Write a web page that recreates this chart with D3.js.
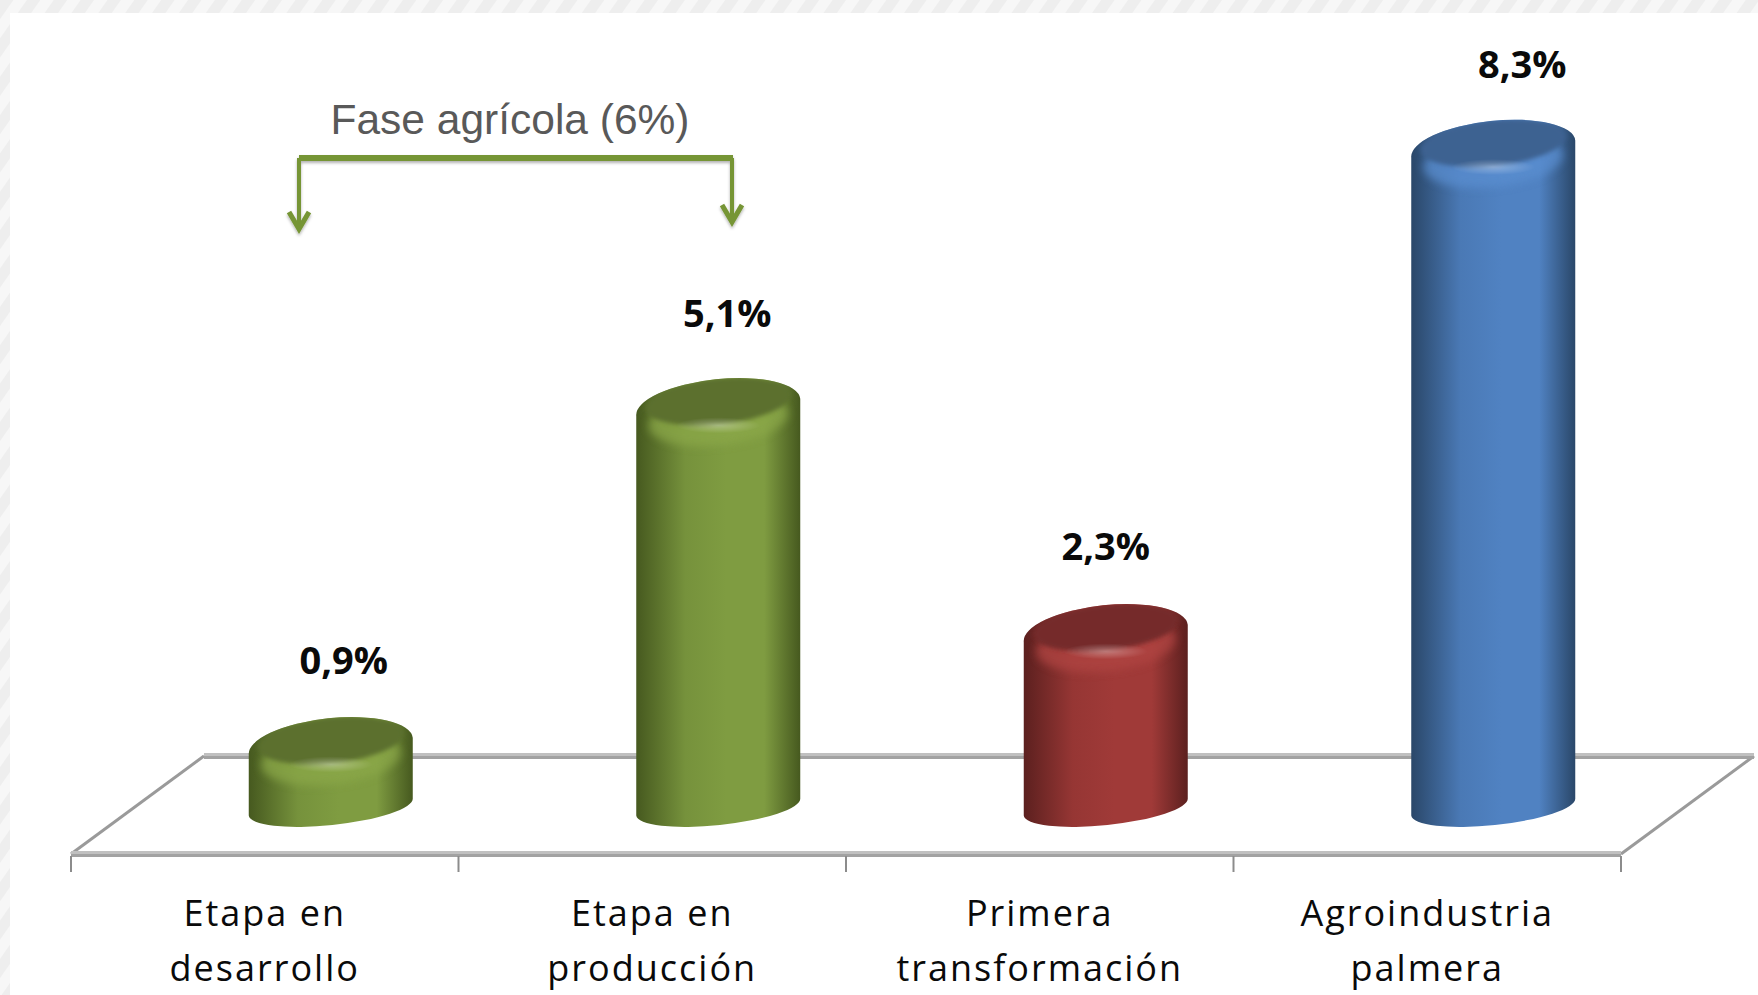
<!DOCTYPE html>
<html>
<head>
<meta charset="utf-8">
<script src="https://cdn.jsdelivr.net/npm/d3@7"></script>
<style>
  html, body { margin: 0; padding: 0; background: #fff; overflow: hidden; }
  svg { display: block; }
</style>
</head>
<body>
<div id="chart"></div>
<script>
// values
var categories = ["Etapa en\ndesarrollo", "Etapa en\nproducción", "Primera\ntransformación", "Agroindustria\npalmera"];
var values = [0.9, 5.1, 2.3, 8.3];
var phaseLabel = "Fase agrícola (6%)";

var bodyMid = ["#7f9c41", "#7f9c41", "#a03a38", "#5082c2"];
var bodyEdge = ["#46591f", "#46591f", "#5c201f", "#2a4769"];
var topFill = ["#5b6f2e", "#5b6f2e", "#742a29", "#3d6291"];
var bevelFill = ["#8ba84a", "#8ba84a", "#b04542", "#5a8ed0"];

var labelDx = [13, 9, 0, 29];
var labelDy = [43, 51, 44, 42];

var width = 1758, height = 995;
var axisLeft = 71, axisRight = 1621, axisY = 854;
var depthX = 133, depthY = 98;
var rx = 82, ry = 28, ryBase = 18, tilt = -6;
var dy = rx * Math.sin(tilt * Math.PI / 180);
var baseY = 807;

var svg = d3.select("#chart").append("svg")
  .attr("width", width)
  .attr("height", height);

var defs = svg.append("defs");

// hatched frame round the picture
var hatch = defs.append("pattern")
  .attr("id", "hatch")
  .attr("width", 22).attr("height", 22)
  .attr("patternUnits", "userSpaceOnUse")
  .attr("patternTransform", "rotate(35)");
hatch.append("rect").attr("width", 22).attr("height", 22).attr("fill", "#f7f7f7");
hatch.append("rect").attr("width", 11).attr("height", 22).attr("fill", "#eeeeee");

svg.append("rect").attr("width", width).attr("height", 13).attr("fill", "url(#hatch)");
svg.append("rect").attr("width", 10).attr("height", height).attr("fill", "url(#hatch)");

defs.append("filter").attr("id", "soft")
  .attr("x", "-20%").attr("y", "-60%").attr("width", "140%").attr("height", "220%")
  .append("feGaussianBlur").attr("stdDeviation", 4);

defs.append("filter").attr("id", "softTop")
  .attr("x", "-20%").attr("y", "-60%").attr("width", "140%").attr("height", "220%")
  .append("feGaussianBlur").attr("stdDeviation", 2);

var shadow = defs.append("filter").attr("id", "arrowShadow")
  .attr("x", "-10%").attr("y", "-10%").attr("width", "120%").attr("height", "130%");
shadow.append("feDropShadow")
  .attr("dx", 0).attr("dy", 2).attr("stdDeviation", 1.5)
  .attr("flood-color", "#000").attr("flood-opacity", 0.3);

var shine = defs.append("radialGradient").attr("id", "shine");
shine.append("stop").attr("offset", "0%").attr("stop-color", "#fff").attr("stop-opacity", 0.32);
shine.append("stop").attr("offset", "100%").attr("stop-color", "#fff").attr("stop-opacity", 0);

values.forEach(function(v, i) {
  var g = defs.append("linearGradient").attr("id", "body" + i);
  g.append("stop").attr("offset", "0%").attr("stop-color", bodyEdge[i]);
  g.append("stop").attr("offset", "30%").attr("stop-color", d3.interpolateRgb(bodyEdge[i], bodyMid[i])(0.85));
  g.append("stop").attr("offset", "55%").attr("stop-color", bodyMid[i]);
  g.append("stop").attr("offset", "78%").attr("stop-color", bodyMid[i]);
  g.append("stop").attr("offset", "100%").attr("stop-color", bodyEdge[i]);
});

var x = d3.scaleBand()
  .domain(categories)
  .range([axisLeft, axisRight]);

var y = d3.scaleLinear()
  .domain([0, 8.3])
  .range([819, 149]);

var fmt = d3.formatLocale({decimal: ",", thousands: ".", grouping: [3], currency: ["", ""]}).format(".1f");

// floor of the 3d chart
var floor = svg.append("g");
floor.append("path")
  .attr("d", "M" + axisLeft + "," + axisY + "L" + (axisLeft + depthX) + "," + (axisY - depthY))
  .attr("stroke", "#9a9a9a").attr("stroke-width", 3).attr("fill", "none");
floor.append("path")
  .attr("d", "M" + axisRight + "," + axisY + "L" + (axisRight + depthX) + "," + (axisY - depthY))
  .attr("stroke", "#9a9a9a").attr("stroke-width", 3).attr("fill", "none");

[[axisY, axisLeft, axisRight], [axisY - depthY, axisLeft + depthX, axisRight + depthX]].forEach(function(l) {
  floor.append("line").attr("x1", l[1]).attr("x2", l[2]).attr("y1", l[0] - 1.5).attr("y2", l[0] - 1.5)
    .attr("stroke", "#c0c0c0").attr("stroke-width", 3);
  floor.append("line").attr("x1", l[1]).attr("x2", l[2]).attr("y1", l[0] + 1.5).attr("y2", l[0] + 1.5)
    .attr("stroke", "#a2a2a2").attr("stroke-width", 3);
});

// ticks sit on the band edges, not on the band centres
floor.selectAll("line.tick")
  .data(d3.range(categories.length + 1))
  .enter().append("line")
    .attr("class", "tick")
    .attr("x1", function(d) { return axisLeft + d * x.step(); })
    .attr("x2", function(d) { return axisLeft + d * x.step(); })
    .attr("y1", axisY + 2)
    .attr("y2", axisY + 18)
    .attr("stroke", "#8c8c8c")
    .attr("stroke-width", 2);

// category labels
var axis = svg.append("g")
  .attr("transform", "translate(0," + axisY + ")")
  .call(d3.axisBottom(x).tickSize(0).tickFormat(""));
axis.select(".domain").remove();

axis.selectAll(".tick text").each(function(d) {
  var t = d3.select(this)
    .attr("y", 0).attr("dy", null)
    .attr("font-family", "'Open Sans'")
    .attr("font-size", 36)
    .attr("letter-spacing", 2)
    .attr("fill", "#0a0a0a");
  d.split("\n").forEach(function(line, k) {
    t.append("tspan")
      .attr("x", 0)
      .attr("y", 72 + k * 55)
      .text(line);
  });
});

// cylinders
var bars = svg.selectAll("g.bar")
  .data(values)
  .enter().append("g")
    .attr("class", "bar")
    .attr("transform", function(d, i) { return "translate(" + (x(categories[i]) + x.bandwidth() / 2 + 66) + ",0)"; });

function bodyPath(d) {
  var top = " " + rx + " " + ry + " " + tilt + " 0 0 ";
  var bottom = " " + rx + " " + ryBase + " " + tilt + " 0 0 ";
  return "M" + (-rx) + "," + (y(d) - dy)
    + "L" + (-rx) + "," + (baseY - dy)
    + "A" + bottom + rx + "," + (baseY + dy)
    + "L" + rx + "," + (y(d) + dy)
    + "A" + top + (-rx) + "," + (y(d) - dy) + "Z";
}

bars.append("clipPath")
  .attr("id", function(d, i) { return "clip" + i; })
  .append("path").attr("d", bodyPath);

bars.append("path")
  .attr("d", bodyPath)
  .attr("fill", function(d, i) { return "url(#body" + i + ")"; });

var inner = bars.append("g")
  .attr("clip-path", function(d, i) { return "url(#clip" + i + ")"; });

// lighter bevel under the rim
inner.append("ellipse")
  .attr("rx", rx - 12).attr("ry", ry - 2)
  .attr("transform", function(d) { return "translate(0," + (y(d) + 12) + ") rotate(" + tilt + ")"; })
  .attr("fill", function(d, i) { return bevelFill[i]; })
  .attr("opacity", 0.75)
  .attr("filter", "url(#soft)");

inner.append("ellipse")
  .attr("rx", rx - 9).attr("ry", ry - 5)
  .attr("transform", function(d) { return "translate(0," + (y(d) - 6) + ") rotate(" + tilt + ")"; })
  .attr("fill", function(d, i) { return topFill[i]; })
  .attr("filter", "url(#softTop)");

inner.append("ellipse")
  .attr("rx", 42).attr("ry", 8)
  .attr("transform", function(d) { return "translate(0," + (y(d) + 18) + ")"; })
  .attr("fill", "url(#shine)");

// value labels
bars.append("text")
  .attr("x", function(d, i) { return labelDx[i]; })
  .attr("y", function(d, i) { return y(d) - ry - 1 - labelDy[i]; })
  .attr("text-anchor", "middle")
  .attr("font-family", "'Open Sans'")
  .attr("font-weight", 700)
  .attr("font-size", 38)
  .attr("fill", "#0a0a0a")
  .text(function(d) { return fmt(d) + "%"; });

// bracket over the two agricultural stages
var bracket = svg.append("g")
  .attr("fill", "none")
  .attr("stroke", "#769535")
  .attr("filter", "url(#arrowShadow)");

bracket.append("path")
  .attr("d", "M299,158H733")
  .attr("stroke-width", 6);
bracket.append("path").attr("d", "M299,158V227").attr("stroke-width", 4);
bracket.append("path").attr("d", "M732,158V221").attr("stroke-width", 4);
bracket.append("path").attr("d", "M289,212L299,229L309,212").attr("stroke-width", 5);
bracket.append("path").attr("d", "M722,205L732,222L742,205").attr("stroke-width", 5);

svg.append("text")
  .attr("x", 510)
  .attr("y", 134)
  .attr("text-anchor", "middle")
  .attr("font-family", "'Liberation Sans'")
  .attr("font-size", 42.5)
  .attr("fill", "#595959")
  .text(phaseLabel);
</script>
</body>
</html>
